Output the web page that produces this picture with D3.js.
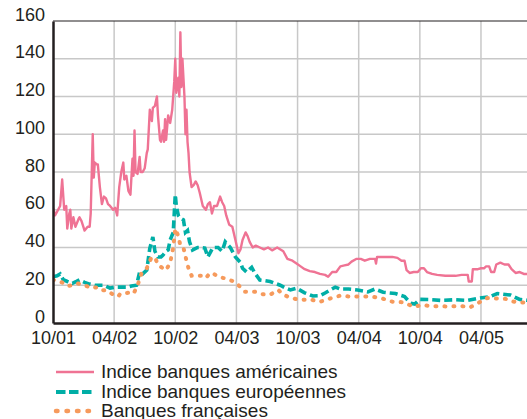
<!DOCTYPE html>
<html><head><meta charset="utf-8">
<script src="https://cdn.jsdelivr.net/npm/d3@7"></script>
<style>body{margin:0;background:#fff}svg{display:block}text{font-family:"Liberation Sans",Arial,Helvetica,sans-serif;fill:#231f20}</style>
</head><body><svg id="c" width="527" height="419"></svg>
<script>
// x = months since October 2001
const xTickMonths = [0, 6, 12, 18, 24, 30, 36, 42];
const xTickLabels = ["10/01", "04/02", "10/02", "04/03", "10/03", "04/04", "10/04", "04/05"];
const yTicks = [0, 20, 40, 60, 80, 100, 120, 140, 160];
const seriesNames = ["Indice banques américaines", "Indice banques européennes", "Banques françaises"];

const usMonths = [0,0.2,0.4,0.7,0.9,1.1,1.3,1.4,1.6,1.7,1.8,2.0,2.2,2.5,2.6,2.8,3.1,3.4,3.6,3.7,3.9,4.0,4.1,4.3,4.4,4.6,4.8,5.0,5.2,5.4,5.6,5.9,6.1,6.3,6.5,6.7,6.9,7.0,7.2,7.4,7.6,7.8,7.9,8.0,8.1,8.3,8.5,8.6,8.8,9.0,9.2,9.3,9.5,9.7,9.8,10.0,10.2,10.3,10.5,10.6,10.8,10.9,11.0,11.1,11.3,11.5,11.7,11.9,12.0,12.1,12.3,12.4,12.5,12.6,12.7,12.9,13.0,13.1,13.2,13.3,13.4,13.6,13.8,14.0,14.2,14.4,14.7,15.0,15.2,15.4,15.6,15.8,16.1,16.4,16.6,16.8,17.0,17.3,17.6,17.9,18.2,18.4,18.6,18.9,19.1,19.3,19.6,19.9,20.3,20.7,21.1,21.5,22.0,22.6,23.0,23.5,23.9,24.3,24.7,25.2,25.7,26.2,26.7,27.0,27.4,27.8,28.2,28.6,29.0,29.3,29.8,30.2,30.6,31.1,31.6,31.7,31.8,32.3,32.8,33.3,33.8,34.2,34.5,34.7,35.0,35.4,35.8,36.1,36.4,36.7,37.2,37.7,38.5,39.5,40.1,40.7,40.8,41.1,41.2,41.7,42.0,42.3,42.5,42.8,43.0,43.3,43.5,43.9,44.3,44.7,45.0,45.4,45.8,46.2,46.6];
const usValues = [61,57,59,62,76,60,62,50,58,60,50,56,51,55,56,54,49,51,51,58,100,77,85,84,84,72,63,67,66,63,62,60,61,57,72,80,85,76,78,70,68,87,78,102,80,79,88,80,80,82,90,92,113,107,114,115,120,110,97,96,102,96,108,97,110,106,113,128,140,122,130,120,154,125,140,120,100,113,96,90,80,72,73,75,73,69,62,60,63,64,58,62,62,67,64,62,57,52,51,44,37,39,44,48,46,43,40,41,40,39,40,38.5,40,38,34,33,31.5,30,28.5,27.5,27,26,25.5,24.5,27,27,30,30.5,31,32.5,34,34,33,34,34,31.5,35,35,35,35,34.5,33,33,28,26.5,27,27,29,29,27,26,25.5,25,25,25.5,25.5,22,22,28.5,28.5,29,29,30,30,27,27,31,32,31,31,28.5,26.5,27,26,26];

const euMonths = [0,0.4,0.7,1.0,1.4,1.9,2.3,2.6,3.1,3.6,4.1,4.6,5.0,5.6,6.1,6.6,7.3,7.7,8.2,8.5,8.8,9.2,9.5,9.8,10.0,10.3,10.6,10.8,11.1,11.3,11.5,11.8,12.0,12.1,12.3,12.5,12.8,13.0,13.2,13.4,13.7,14.2,14.4,14.9,15.2,15.7,16.2,16.6,16.9,17.4,17.9,18.4,18.6,19.0,19.2,19.5,19.8,20.3,21.3,22.3,22.8,23.3,23.9,24.7,25.5,26.2,26.7,27.2,27.7,28.2,29.0,29.9,30.9,31.6,32.4,33.6,34.5,35.1,35.5,36.0,37.0,38.0,39.5,40.7,41.9,42.9,43.6,44.9,45.8,46.6];
const euValues = [24.5,25,26,23,22,21,22,22.8,21.5,20.6,20,20,20,18.5,19,19,19,19.6,20,27,26,28,39.6,45.6,38,35,35,36,38,38.7,44,48,68,62,57,55.6,54.6,48,49,43,38.7,40,40,39.7,35,40,40,38,43,40,35,32,29,27,28,29.5,26.5,22.8,22,20,18.6,17.5,18.4,16,14.3,14.5,15.9,17.5,19,18,18,17.5,16.5,18,16.3,15.6,14,10.4,10,12.5,12.4,12,12.3,12,13.2,14,15.6,14.8,12.5,12];

const frMonths = [0,0.4,0.9,1.4,1.9,2.4,3.1,3.8,4.4,4.8,5.4,5.9,6.4,6.6,7.4,7.9,8.3,8.7,9.2,9.6,10.0,10.3,10.8,11.1,11.5,11.8,12.0,12.3,12.5,12.8,13.1,13.3,13.6,14.1,14.6,15.0,15.4,15.8,16.2,16.9,17.6,18.2,18.8,19.8,20.5,21.3,22.1,22.6,23.3,24.2,25.2,26.2,27.2,28.2,29.1,30.1,31.3,32.3,33.3,34.4,35.4,36.2,37.0,38.5,40.1,40.9,41.7,42.6,43.4,44.4,45.0,45.8,46.6];
const frValues = [23,22,21.5,19.6,20,21,20,18.5,19,17.5,17,15,14,15.5,16,15.5,20,26.5,29,34,35,30.7,29,28,32,40,50,46,41,40,33,29,25,25,25,23.8,26.5,26,24.5,23.6,22.3,20,16.6,16.6,15.3,15,17.5,15,13.4,12.2,12.5,11.2,13,14.5,14,14,14,13,11.3,11,8.6,9.5,9,8.8,9,8.2,10.5,13.2,13,12.8,11.5,10.8,11];

const colors = ["#ef7394", "#00aea6", "#f69a5c"];

const svg = d3.select("#c");
const L = 53, T = 21, B = 323, R = 529;
const x = d3.scaleLinear().domain([0, (R - L) / 10.19]).range([L, R]);
const y = d3.scaleLinear().domain([0, 160]).range([B, T]);

// grid
svg.append("g").selectAll("line").data(yTicks.filter(d => d > 0 && d < 160)).join("line")
  .attr("x1", L).attr("x2", R).attr("y1", d => y(d)).attr("y2", d => y(d))
  .attr("stroke", "#c8c8c8").attr("stroke-width", 1.5);
svg.append("g").selectAll("line").data(xTickMonths.filter(d => d > 0)).join("line")
  .attr("x1", d => x(d)).attr("x2", d => x(d)).attr("y1", T).attr("y2", B)
  .attr("stroke", "#c8c8c8").attr("stroke-width", 1.5);

// top border
svg.append("line").attr("x1", L).attr("x2", R).attr("y1", y(160)).attr("y2", y(160))
  .attr("stroke", "#231f20").attr("stroke-width", 1.2);

const clip = svg.append("clipPath").attr("id", "clp").append("rect")
  .attr("x", L).attr("y", T - 5).attr("width", R - L).attr("height", B - T + 5);

const line = d3.line().x(d => x(d[0])).y(d => y(d[1]));
const g = svg.append("g").attr("clip-path", "url(#clp)");
const eu = d3.zip(euMonths, euValues), fr = d3.zip(frMonths, frValues), us = d3.zip(usMonths, usValues);
g.append("path").datum(eu).attr("d", line).attr("fill", "none").attr("stroke", colors[1])
  .attr("stroke-width", 3.6).attr("stroke-dasharray", "8,4");
g.append("path").datum(fr).attr("d", line).attr("fill", "none").attr("stroke", colors[2])
  .attr("stroke-width", 4).attr("stroke-dasharray", "1,8").attr("stroke-linecap", "round");
g.append("path").datum(us).attr("d", line).attr("fill", "none").attr("stroke", colors[0])
  .attr("stroke-width", 2.4).attr("stroke-linejoin", "round");

// axes
const yAxis = d3.axisLeft(y).tickValues(yTicks).tickSize(0).tickPadding(8);
const ya = svg.append("g").attr("transform", `translate(${L},0)`).call(yAxis);
ya.select(".domain").attr("stroke", "#231f20").attr("stroke-width", 2.5);
ya.selectAll("text").attr("font-size", 18).attr("dy", "-0.05em").style("font-family", "Liberation Sans, Arial, sans-serif").attr("fill", "#231f20");

const xAxis = d3.axisBottom(x).tickValues(xTickMonths).tickFormat((d, i) => xTickLabels[i]).tickSize(0).tickPadding(8);
const xa = svg.append("g").attr("transform", `translate(0,${B})`).call(xAxis);
xa.select(".domain").attr("stroke", "#231f20").attr("stroke-width", 2.5);
xa.selectAll("text").attr("font-size", 18).style("font-family", "Liberation Sans, Arial, sans-serif").attr("fill", "#231f20");

// legend
const leg = svg.append("g");
const rows = [
  {dash: null, w: 2.6, cap: "butt"},
  {dash: "9.5,3.5", w: 3.8, cap: "butt"},
  {dash: "1.5,9", w: 4.5, cap: "round"}
];
const ly = [372, 392, 411];
seriesNames.forEach((n, i) => {
  leg.append("line").attr("x1", 56).attr("x2", 94).attr("y1", ly[i]).attr("y2", ly[i])
    .attr("stroke", colors[i]).attr("stroke-width", rows[i].w)
    .attr("stroke-dasharray", rows[i].dash).attr("stroke-linecap", rows[i].cap);
  leg.append("text").attr("x", 101).attr("y", ly[i] + 6).attr("font-size", 19).text(n);
});
</script></body></html>
